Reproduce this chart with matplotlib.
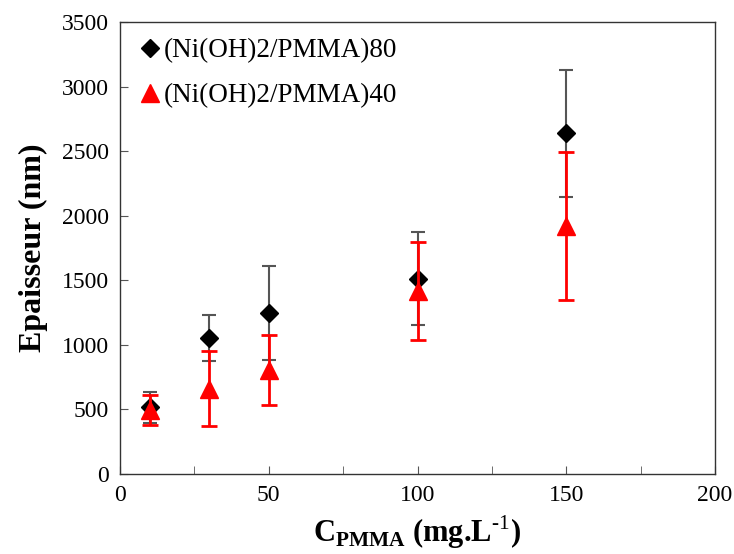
import numpy as np
import matplotlib.pyplot as plt
from matplotlib.ticker import MultipleLocator

plt.rcParams['font.family'] = 'Liberation Serif'
plt.rcParams['mathtext.fontset'] = 'custom'
plt.rcParams['mathtext.rm'] = 'Liberation Serif'
plt.rcParams['mathtext.bf'] = 'Liberation Serif:bold'

# data
conc = [10, 30, 50, 100, 150]
ep80 = [515, 1052, 1248, 1513, 2638]
err80 = [118, 177, 364, 362, 492]
ep40 = [495, 662, 805, 1414, 1920]
err40 = [116, 288, 271, 379, 575]

fig = plt.figure(figsize=(7.34, 5.54), dpi=100)
ax = fig.add_axes([120/734, 80/554, 595/734, 452/554])

ax.errorbar(conc, ep80, yerr=err80, fmt='none', ecolor='#555555', elinewidth=1.5, capsize=5, capthick=1.5, zorder=2)
ax.plot(conc, ep80, 'D', color='black', ms=9, ls='none', zorder=3, label='(Ni(OH)2/PMMA)80')
ax.errorbar(conc, ep40, yerr=err40, fmt='none', ecolor='red', elinewidth=2, capsize=6, capthick=2, zorder=4)
ax.plot(conc, ep40, '^', color='red', ms=13, ls='none', zorder=5, label='(Ni(OH)2/PMMA)40')

ax.set_xlim(0, 200)
ax.set_ylim(0, 3500)
ax.xaxis.set_major_locator(MultipleLocator(50))
ax.xaxis.set_minor_locator(MultipleLocator(25))
ax.yaxis.set_major_locator(MultipleLocator(500))
ax.tick_params(which='both', direction='in', top=False, right=False, labelsize=17, color='#555555')
ax.tick_params(which='major', length=6, pad=8)
ax.tick_params(which='minor', length=6)
for s in ax.spines.values():
    s.set_color('#333333')
    s.set_linewidth(1)

ax.set_ylabel('Epaisseur (nm)', fontsize=23, fontweight='bold', labelpad=10)
ax.set_xlabel(r'$\mathbf{C_{PMMA}}$' + ' (mg.L' + r'$^{\text{-1}}$' + ')',
              fontsize=22, fontweight='bold', labelpad=5)

ax.legend(loc='upper left', frameon=False, fontsize=19.5, handletextpad=0.0, handlelength=1.0,
          borderaxespad=0.2, labelspacing=0.75)

fig.savefig('out.png', dpi=100)
